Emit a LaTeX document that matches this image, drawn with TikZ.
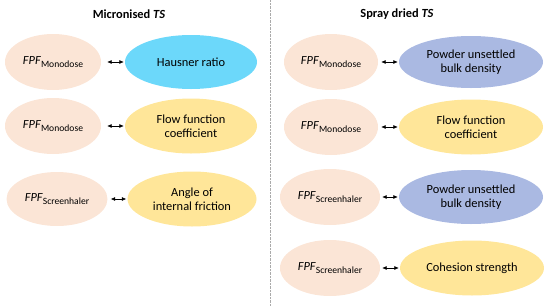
\documentclass[tikz,border=0pt]{standalone}
\usepackage{fontspec}
\setmainfont{Carlito}
\usepackage{tikz}
\usetikzlibrary{shapes.geometric, arrows.meta, positioning}
\usepackage{xcolor}
\definecolor{cPeach}{RGB}{251,229,214}
\definecolor{cSky}{RGB}{108,216,250}
\definecolor{cYellow}{RGB}{255,230,153}
\definecolor{cPeri}{RGB}{170,185,226}
\definecolor{cDiv}{RGB}{170,170,170}
\tikzset{
  basebox/.style={ellipse, draw=none, inner sep=0pt, align=center,
                  font=\fontsize{12.4}{14}\selectfont},
  fpfnode/.style={basebox, fill=cPeach, minimum width=96pt,
                  minimum height=56pt},
  skynode/.style={basebox, fill=cSky, minimum width=132pt,
                  minimum height=54pt},
  yellownode/.style={basebox, fill=cYellow, minimum width=132pt,
                     minimum height=55pt},
  perinode/.style={basebox, fill=cPeri, minimum width=144pt,
                   minimum height=54pt},
  titlenode/.style={font=\fontsize{12.4}{14}\selectfont\bfseries},
  linkarrow/.style={{Latex[length=4.5pt,width=4pt]}-{Latex[length=4.5pt,width=4pt]},
                    line width=0.6pt, black, shorten <=6pt, shorten >=1pt},
  divider/.style={draw=cDiv, densely dotted, thin}
}
\newcommand{\fpf}[1]{\textit{FPF}\raisebox{-0.4ex}{\fontsize{9.6}{10}\selectfont #1}}

\begin{document}
\begin{tikzpicture}[x=1pt, y=-1pt]
  \useasboundingbox (0,0) rectangle (550,306);

  % ── Titles ──
  \node[titlenode] (ttlMicro) at (129,14) {Micronised \textit{TS}};
  \node[titlenode] (ttlSpray) at (397,14) {Spray dried \textit{TS}};

  % ── Micronised column ──
  \node[fpfnode] (mFpfA) at (53,62) {\fpf{Monodose}};
  \node[skynode] (mHaus) at (191,62) {Hausner ratio};

  \node[fpfnode] (mFpfB) at (53,126) {\fpf{Monodose}};
  \node[yellownode] (mFlow) at (191,126) {Flow function\\coefficient};

  \node[fpfnode, minimum width=101pt, minimum height=54pt] (mFpfC) at (57,199)
      {\fpf{Screenhaler}};
  \node[yellownode, minimum width=129pt] (mAngle) at (192,199)
      {Angle of\\internal friction};

  % ── Spray dried column ──
  \node[fpfnode, minimum width=94pt] (sFpfA) at (331,62) {\fpf{Monodose}};
  \node[perinode, minimum height=52pt] (sBulkA) at (471,62)
      {Powder unsettled\\bulk density};

  \node[fpfnode, minimum width=94pt] (sFpfB) at (331,127) {\fpf{Monodose}};
  \node[yellownode, minimum width=144pt] (sFlow) at (471,127)
      {Flow function\\coefficient};

  \node[fpfnode, minimum width=100pt] (sFpfC) at (330,197) {\fpf{Screenhaler}};
  \node[perinode] (sBulkB) at (471,197) {Powder unsettled\\bulk density};

  \node[fpfnode, minimum width=100pt] (sFpfD) at (330,268) {\fpf{Screenhaler}};
  \node[yellownode, minimum width=144pt] (sCoh) at (472,268) {Cohesion strength};

  % ── Links ──
  \draw[linkarrow] (mFpfA.east) -- (mHaus.west);
  \draw[linkarrow] (mFpfB.east) -- (mFlow.west);
  \draw[linkarrow, shorten <=3pt] (mFpfC.east) -- (mAngle.west);
  \draw[linkarrow, shorten <=3pt] (sFpfA.east) -- (sBulkA.west);
  \draw[linkarrow, shorten <=3pt] (sFpfB.east) -- (sFlow.west);
  \draw[linkarrow, shorten <=2pt] (sFpfC.east) -- (sBulkB.west);
  \draw[linkarrow, shorten <=2pt] (sFpfD.east) -- (sCoh.west);

  % ── Divider ──
  \coordinate (divTop) at (270,0);
  \coordinate (divBot) at (270,306);
  \draw[divider] (divTop) -- (divBot);

\end{tikzpicture}
\end{document}
